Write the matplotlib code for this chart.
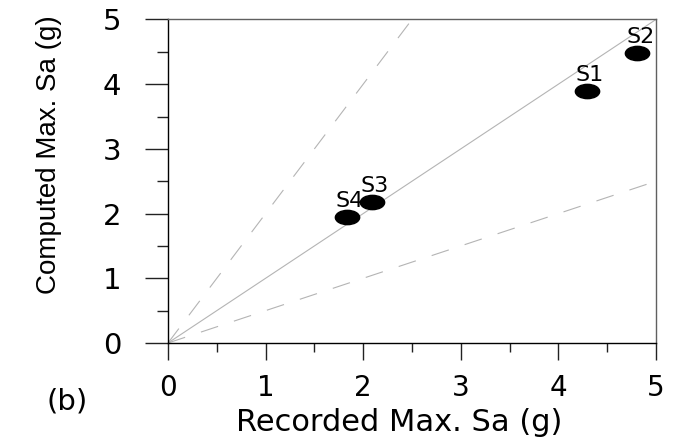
import matplotlib.pyplot as plt
import numpy as np
from matplotlib.path import Path
from matplotlib.transforms import Affine2D
from matplotlib.ticker import MultipleLocator

# data
stations = ['S1', 'S2', 'S3', 'S4']
recorded = [4.29, 4.81, 2.09, 1.83]
computed = [3.90, 4.48, 2.18, 1.95]
ref_ratios = [2.0, 1.0, 0.5]   # computed / recorded guide lines
ref_styles = ['dashed', 'solid', 'dashed']
xticks = [0, 1, 2, 3, 4, 5]
yticks = [0, 1, 2, 3, 4, 5]

plt.rcParams['lines.scale_dashes'] = False
plt.rcParams['font.family'] = ['DejaVu Sans']

fig = plt.figure(figsize=(6.84, 4.44), dpi=100)
ax = fig.add_axes([0.2456, 0.2275, 0.7134, 0.7286])

# guide lines
for r, st in zip(ref_ratios, ref_styles):
    xs = np.array([0.0, min(5.0, 5.0 / r)])
    if st == 'solid':
        ax.plot(xs, r * xs, color='#b4b4b4', lw=0.8, zorder=1)
    else:
        ax.plot(xs, r * xs, color='#b4b4b4', lw=0.8, dashes=(13, 12), zorder=1)

# stretched round markers
ell = Path.unit_circle().transformed(Affine2D().scale(1.7, 1.0))
ax.plot(recorded, computed, ls='none', marker=ell, ms=17.5,
        color='black', zorder=3)
for name, xv, yv in zip(stations, recorded, computed):
    ax.annotate(name, (xv, yv), xytext=(2, 11.5), textcoords='offset points',
                ha='center', va='center', fontsize=16, zorder=4)

ax.set_xlim(0, 5)
ax.set_ylim(0, 5)
ax.set_xticks(xticks)
ax.set_yticks(yticks)
ax.xaxis.set_minor_locator(MultipleLocator(0.5))
ax.yaxis.set_minor_locator(MultipleLocator(0.5))

ax.tick_params(axis='x', which='major', direction='out', length=12,
               width=1, color='#222222', pad=10, labelsize=20)
ax.tick_params(axis='x', which='minor', direction='out', length=6.5,
               width=1, color='#222222')
ax.tick_params(axis='y', which='major', direction='out', length=16.5,
               width=1, color='#222222', pad=17, labelsize=21)
ax.tick_params(axis='y', which='minor', direction='out', length=8,
               width=1, color='#222222')

for side in ['left', 'bottom']:
    ax.spines[side].set_color('black')
    ax.spines[side].set_linewidth(1)
for side in ['top', 'right']:
    ax.spines[side].set_color('#606060')
    ax.spines[side].set_linewidth(1)

ax.set_xlabel('Recorded Max. Sa (g)', fontsize=22)
ax.xaxis.set_label_coords(0.473, -0.2)
ax.set_ylabel('Computed Max. Sa (g)', fontsize=20,
              family=['Liberation Sans', 'DejaVu Sans'])
ax.yaxis.set_label_coords(-0.217, 0.581)

fig.text(0.0987, 0.0946, '(b)', fontsize=21, ha='center', va='center')

plt.savefig('out.png', dpi=100)
